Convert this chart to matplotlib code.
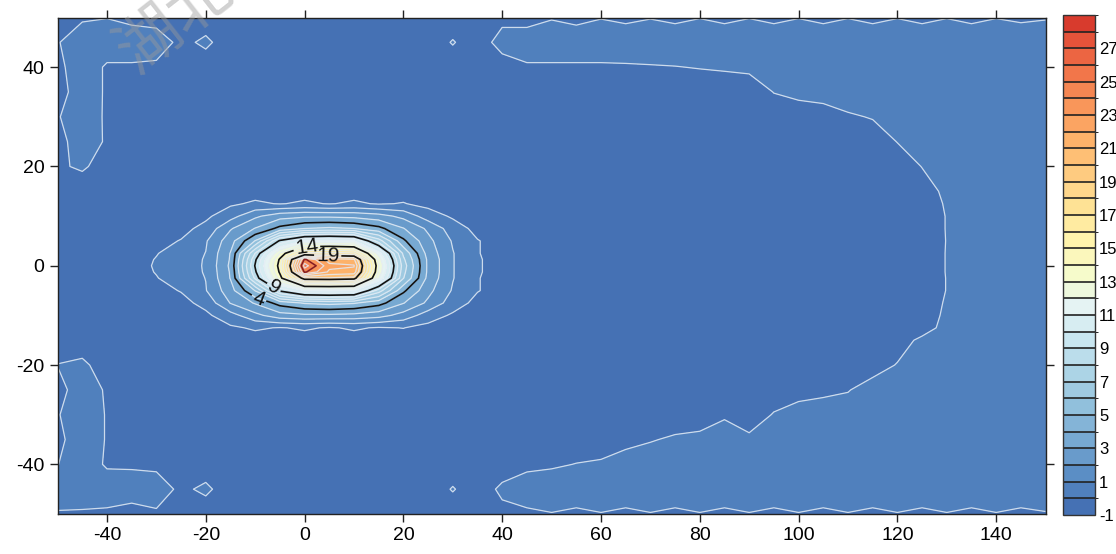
import numpy as np
import matplotlib
matplotlib.use("Agg")
import matplotlib.pyplot as plt
from matplotlib.colors import ListedColormap, BoundaryNorm, to_rgb

# ---------------- data ----------------
x_values = [-50, -45, -40, -35, -30, -25, -20, -15, -10, -5, 0, 5, 10, 15, 20, 25, 30, 35, 40,
            45, 50, 55, 60, 65, 70, 75, 80, 85, 90, 95, 100, 105, 110, 115, 120, 125, 130, 135,
            140, 145, 150]
y_values = [-50, -45, -40, -35, -30, -25, -20, -15, -12.5, -10, -7.5, -5, -2.5, -1.25, 0,
            1.25, 2.5, 5, 7.5, 10, 12.5, 15, 20, 25, 30, 35, 40, 45, 50]

z_rows = [
    # y = -50
    [-.05, -.1, -.15, -.35, -.1, -.4, -.4, -.4, -.4, -.4, -.4, -.4, -.4, -.4, -.4, -.4, -.4, -.4, -.2,
     -.15, -.03, -.15, -.03, -.15, -.03, -.15, -.03, -.15, -.03, -.15, -.03, -.15, -.03, -.15, -.03,
     -.15, -.03, -.15, -.03, -.15, -.05],
    # y = -45
    [.3, .45, .45, .45, .35, -.15, .15, -.4, -.4, -.4, -.4, -.4, -.4, -.4, -.4, -.4, .05, -.4, .15,
     .45, .45, .45, .45, .45, .45, .45, .45, .45, .45, .45, .45, .45, .45, .45, .45, .45, .45, .45,
     .45, .45, .45],
    # y = -40
    [-.02, .45, -.1, -.12, -.15, -.4, -.4, -.4, -.4, -.4, -.4, -.4, -.4, -.4, -.4, -.4, -.4, -.4, -.4,
     -.2, -.1, .02, .1, .3, .4, .45, .45, .45, .45, .45, .45, .45, .45, .45, .45, .45, .45, .45,
     .45, .45, .45],
    # y = -35
    [-.2, .45, -.05, -.4, -.4, -.4, -.4, -.4, -.4, -.4, -.4, -.4, -.4, -.4, -.4, -.4, -.4, -.4, -.4,
     -.4, -.4, -.4, -.4, -.2, -.05, .1, .2, .4, .15, .45, .45, .45, .45, .45, .45, .45, .45, .45,
     .45, .45, .45],
    # y = -30
    [-.05, .45, -.05, -.4, -.4, -.4, -.4, -.4, -.4, -.4, -.4, -.4, -.4, -.4, -.4, -.4, -.4, -.4, -.4,
     -.4, -.4, -.4, -.4, -.4, -.4, -.4, -.4, -.1, -.4, .05, .45, .45, .45, .45, .45, .45, .45, .45,
     .45, .45, .45],
    # y = -25
    [-.3, .45, -.1, -.4, -.4, -.4, -.4, -.4, -.4, -.4, -.4, -.4, -.4, -.4, -.4, -.4, -.4, -.4, -.4,
     -.4, -.4, -.4, -.4, -.4, -.4, -.4, -.4, -.4, -.4, -.4, -.4, -.2, -.05, .4, .45, .45, .45, .45,
     .45, .45, .45],
    # y = -20
    [.02, .15, -.35, -.4, -.4, -.4, -.4, -.4, -.4, -.4, -.4, -.4, -.4, -.4, -.4, -.4, -.4, -.4, -.4,
     -.4, -.4, -.4, -.4, -.4, -.4, -.4, -.4, -.4, -.4, -.4, -.4, -.4, -.4, -.4, .05, .45, .45, .45,
     .45, .45, .45],
    # y = -15
    [-.4, -.4, -.4, -.4, -.4, -.4, -.4, -.4, -.4, -.4, -.4, -.4, -.4, -.4, -.4, -.4, -.4, -.4, -.4,
     -.4, -.4, -.4, -.4, -.4, -.4, -.4, -.4, -.4, -.4, -.4, -.4, -.4, -.4, -.4, -.4, .2, .45, .45,
     .45, .45, .45],
    # y = -12.5
    [-.4, -.4, -.4, -.4, -.4, -.4, -.4, -.15, .12, -.05, .12, -.08, .12, -.08, .02, -.3, -.4, -.4, -.4,
     -.4, -.4, -.4, -.4, -.4, -.4, -.4, -.4, -.4, -.4, -.4, -.4, -.4, -.4, -.4, -.4, -.4, .3, .45,
     .45, .45, .45],
    # y = -10
    [-.4, -.4, -.4, -.4, -.4, -.4, -.2, .6, 1.7, 2.6, 2.8, 2.8, 2.7, 2.4, 1.6, .5, -.15, -.4, -.4,
     -.4, -.4, -.4, -.4, -.4, -.4, -.4, -.4, -.4, -.4, -.4, -.4, -.4, -.4, -.4, -.4, -.4, .15, .45,
     .45, .45, .45],
    # y = -7.5
    [-.4, -.4, -.4, -.4, -.4, -.3, .3, 2.05, 3.1, 4.4, 5.1, 5.3, 5.1, 4.4, 3.05, 1.8, .5, -.3, -.4,
     -.4, -.4, -.4, -.4, -.4, -.4, -.4, -.4, -.4, -.4, -.4, -.4, -.4, -.4, -.4, -.4, -.4, .08, .45,
     .45, .45, .45],
    # y = -5
    [-.4, -.4, -.4, -.4, -.3, .05, .95, 2.6, 5.05, 9.2, 11.05, 11.2, 11.05, 7.5, 4.2, 2.3, .9, .05,
     -.4, -.4, -.4, -.4, -.4, -.4, -.4, -.4, -.4, -.4, -.4, -.4, -.4, -.4, -.4, -.4, -.4, -.4, .02,
     .45, .45, .45, .45],
    # y = -2.5
    [-.4, -.4, -.4, -.4, -.05, .5, 1.02, 3.05, 8.2, 13.5, 19.8, 19.9, 19.6, 12.05, 6.05, 2.7, 1.05,
     .05, -.4, -.4, -.4, -.4, -.4, -.4, -.4, -.4, -.4, -.4, -.4, -.4, -.4, -.4, -.4, -.4, -.4, -.4,
     .02, .45, .45, .45, .45],
    # y = -1.25
    [-.4, -.4, -.4, -.4, .05, .5, 1.08, 3.1, 8.8, 14.2, 24.2, 21.8, 21.6, 12.8, 6.3, 2.8, 1.05, .1,
     -.4, -.4, -.4, -.4, -.4, -.4, -.4, -.4, -.4, -.4, -.4, -.4, -.4, -.4, -.4, -.4, -.4, -.4, .03,
     .45, .45, .45, .45],
    # y = 0
    [-.4, -.4, -.4, -.4, .1, .5, 1.1, 3.2, 9.1, 14.5, 25.5, 22.3, 22.1, 13.05, 6.5, 2.8, 1.05, .1,
     -.4, -.4, -.4, -.4, -.4, -.4, -.4, -.4, -.4, -.4, -.4, -.4, -.4, -.4, -.4, -.4, -.4, -.4, .03,
     .45, .45, .45, .45],
    # y = 1.25
    [-.4, -.4, -.4, -.4, .05, .5, 1.08, 3.1, 8.8, 14.2, 24.2, 21.5, 21.2, 12.6, 6.2, 2.8, 1.05, .1,
     -.4, -.4, -.4, -.4, -.4, -.4, -.4, -.4, -.4, -.4, -.4, -.4, -.4, -.4, -.4, -.4, -.4, -.4, .03,
     .45, .45, .45, .45],
    # y = 2.5
    [-.4, -.4, -.4, -.4, -.05, .5, 1.02, 3.05, 8.05, 13.05, 17.4, 17.5, 17.2, 11.5, 5.8, 2.6, 1.05,
     .05, -.4, -.4, -.4, -.4, -.4, -.4, -.4, -.4, -.4, -.4, -.4, -.4, -.4, -.4, -.4, -.4, -.4, -.4,
     .03, .45, .45, .45, .45],
    # y = 5
    [-.4, -.4, -.4, -.4, -.3, .05, .9, 2.6, 5.05, 9.2, 11.1, 11.3, 11.05, 7.5, 4.2, 2.3, .9, .05,
     -.4, -.4, -.4, -.4, -.4, -.4, -.4, -.4, -.4, -.4, -.4, -.4, -.4, -.4, -.4, -.4, -.4, -.4, .02,
     .45, .45, .45, .45],
    # y = 7.5
    [-.4, -.4, -.4, -.4, -.4, -.3, .3, 1.9, 3.05, 4.3, 5.0, 5.2, 5.0, 4.3, 3.05, 1.8, .5, -.3, -.4,
     -.4, -.4, -.4, -.4, -.4, -.4, -.4, -.4, -.4, -.4, -.4, -.4, -.4, -.4, -.4, -.4, -.4, .03, .45,
     .45, .45, .45],
    # y = 10
    [-.4, -.4, -.4, -.4, -.4, -.4, -.2, .6, 1.8, 2.6, 2.8, 2.8, 2.7, 2.4, 1.7, .5, -.15, -.4, -.4,
     -.4, -.4, -.4, -.4, -.4, -.4, -.4, -.4, -.4, -.4, -.4, -.4, -.4, -.4, -.4, -.4, -.4, .03, .45,
     .45, .45, .45],
    # y = 12.5
    [-.4, -.4, -.4, -.4, -.4, -.4, -.4, -.15, .15, -.05, .15, -.05, .15, -.08, .05, -.3, -.4, -.4, -.4,
     -.4, -.4, -.4, -.4, -.4, -.4, -.4, -.4, -.4, -.4, -.4, -.4, -.4, -.4, -.4, -.4, -.4, .08, .45,
     .45, .45, .45],
    # y = 15
    [-.4, -.4, -.4, -.4, -.4, -.4, -.4, -.4, -.4, -.4, -.4, -.4, -.4, -.4, -.4, -.4, -.4, -.4, -.4,
     -.4, -.4, -.4, -.4, -.4, -.4, -.4, -.4, -.4, -.4, -.4, -.4, -.4, -.4, -.4, -.4, -.3, .15, .45,
     .45, .45, .45],
    # y = 20
    [-.1, .1, -.3, -.4, -.4, -.4, -.4, -.4, -.4, -.4, -.4, -.4, -.4, -.4, -.4, -.4, -.4, -.4, -.4,
     -.4, -.4, -.4, -.4, -.4, -.4, -.4, -.4, -.4, -.4, -.4, -.4, -.4, -.4, -.4, -.4, .02, .3, .45,
     .45, .45, .45],
    # y = 25
    [-.3, .45, -.1, -.4, -.4, -.4, -.4, -.4, -.4, -.4, -.4, -.4, -.4, -.4, -.4, -.4, -.4, -.4, -.4,
     -.4, -.4, -.4, -.4, -.4, -.4, -.4, -.4, -.4, -.4, -.4, -.4, -.4, -.4, -.4, .02, .4, .45, .45,
     .45, .45, .45],
    # y = 30
    [-.05, .4, -.1, -.4, -.4, -.4, -.4, -.4, -.4, -.4, -.4, -.4, -.4, -.4, -.4, -.4, -.4, -.4, -.4,
     -.4, -.4, -.4, -.4, -.4, -.4, -.4, -.4, -.4, -.4, -.4, -.4, -.4, -.1, .05, .4, .45, .45, .45,
     .45, .45, .45],
    # y = 35
    [-.35, .45, -.1, -.4, -.4, -.4, -.4, -.4, -.4, -.4, -.4, -.4, -.4, -.4, -.4, -.4, -.4, -.4, -.4,
     -.4, -.4, -.4, -.4, -.4, -.4, -.4, -.4, -.4, -.4, .02, .2, .35, .45, .45, .45, .45, .45, .45,
     .45, .45, .45],
    # y = 40
    [-.2, .45, -.1, -.1, -.15, -.4, -.4, -.4, -.4, -.4, -.4, -.4, -.4, -.4, -.4, -.4, -.4, -.4, -.35,
     -.1, -.1, -.1, -.1, -.08, -.05, -.02, .03, .08, .15, .4, .45, .45, .45, .45, .45, .45, .45, .45,
     .45, .45, .45],
    # y = 45
    [-.05, .45, .45, .45, .4, -.2, .15, -.4, -.4, -.4, -.4, -.4, -.4, -.4, -.4, -.4, .05, -.4, .3,
     .45, .45, .45, .45, .45, .45, .45, .45, .45, .45, .45, .45, .45, .45, .45, .45, .45, .45, .45,
     .45, .45, .45],
    # y = 50
    [-.2, -.1, -.02, -.2, -.3, -.4, -.4, -.4, -.4, -.4, -.4, -.4, -.4, -.4, -.4, -.4, -.4, -.4, -.2,
     -.3, -.05, -.2, -.03, -.15, -.03, -.15, -.02, -.15, -.02, -.15, -.02, -.15, -.02, -.15, -.02,
     -.15, -.02, -.15, -.02, -.12, -.05],
]

fill_levels = list(range(-1, 30))
white_line_levels = list(range(0, 29))
black_line_levels = [4, 9, 14, 19]
peak_line_levels = [24]
label_positions = [(-9.5, -7.3), (-6.5, -4.8), (0.4, 4.2), (4.7, 2.6)]
x_ticks = [-40, -20, 0, 20, 40, 60, 80, 100, 120, 140]
y_ticks = [-40, -20, 0, 20, 40]
cbar_ticks = [-1, 1, 3, 5, 7, 9, 11, 13, 15, 17, 19, 21, 23, 25, 27]

# ---------------- colours ----------------
anchor_vals = [-0.5, 0.5, 1.5, 2.5, 3.5, 5.5, 7.5, 9.5, 11.5, 12.5, 13.5, 15.5, 17.5, 19.5,
               21.5, 23.5, 25.5, 27.5, 28.5]
anchor_cols = ['#4571b4', '#5080bd', '#5b8ec5', '#699bcb', '#77a9d2', '#91c0dc', '#acd4e6',
               '#c9e6f0', '#e5f3f3', '#eef8dd', '#f6fbcb', '#fff3ac', '#fee295', '#fecb80',
               '#fdb26a', '#f9965a', '#f2764a', '#e5533a', '#d83b2d']
rgb = np.array([to_rgb(c) for c in anchor_cols])
centers = np.array(fill_levels[:-1]) + 0.5
cols = np.stack([np.interp(centers, anchor_vals, rgb[:, k]) for k in range(3)], axis=1)
cmap = ListedColormap(cols)
norm = BoundaryNorm(fill_levels, cmap.N)

# ---------------- figure ----------------
plt.rcParams['font.family'] = ['Liberation Sans', 'DejaVu Sans']
plt.rcParams['axes.unicode_minus'] = False
fig = plt.figure(figsize=(11.16, 5.54), dpi=100)
ax = fig.add_axes([0.0516, 0.0722, 0.8853, 0.8962])
cax = fig.add_axes([0.9525, 0.0704, 0.0287, 0.9025])

X, Y = np.meshgrid(np.array(x_values, float), np.array(y_values, float))
Z = np.array(z_rows, float)

cf = ax.contourf(X, Y, Z, levels=fill_levels, cmap=cmap, norm=norm)
ax.contour(X, Y, Z, levels=white_line_levels, colors='#e4ecf5', linewidths=0.9, alpha=0.85)
cs = ax.contour(X, Y, Z, levels=black_line_levels, colors='#111111', linewidths=1.2)
ax.contour(X, Y, Z, levels=peak_line_levels, colors='#8a1c1c', linewidths=1.2)
ax.clabel(cs, fmt='%d', fontsize=15, inline=True, inline_spacing=2, manual=label_positions)

ax.set_xlim(-50, 150)
ax.set_ylim(-50, 50)
ax.set_xticks(x_ticks)
ax.set_yticks(y_ticks)
ax.tick_params(axis='both', which='both', direction='out', length=6, width=1, labelsize=14,
               top=True, right=True, labeltop=False, labelright=False, color='#222222')
for sp in ax.spines.values():
    sp.set_linewidth(1.0)
    sp.set_color('#222222')

cb = fig.colorbar(cf, cax=cax, ticks=cbar_ticks, drawedges=True)
cb.outline.set_linewidth(1.0)
cb.outline.set_edgecolor('#333333')
cb.dividers.set_color('#222222')
cb.dividers.set_linewidth(1.2)
cax.tick_params(length=0, pad=3, labelsize=12)
for t in cax.get_yticklabels():
    t.set_fontfamily(['Liberation Sans Narrow', 'Liberation Sans'])

# watermark
fig.text(0.157, 0.962, '湖北', rotation=38, fontsize=46, color='#9a9a9a', alpha=0.45,
         ha='center', va='center', family=['Noto Sans CJK SC', 'DejaVu Sans'], zorder=20)

fig.savefig('out.png', dpi=100)
